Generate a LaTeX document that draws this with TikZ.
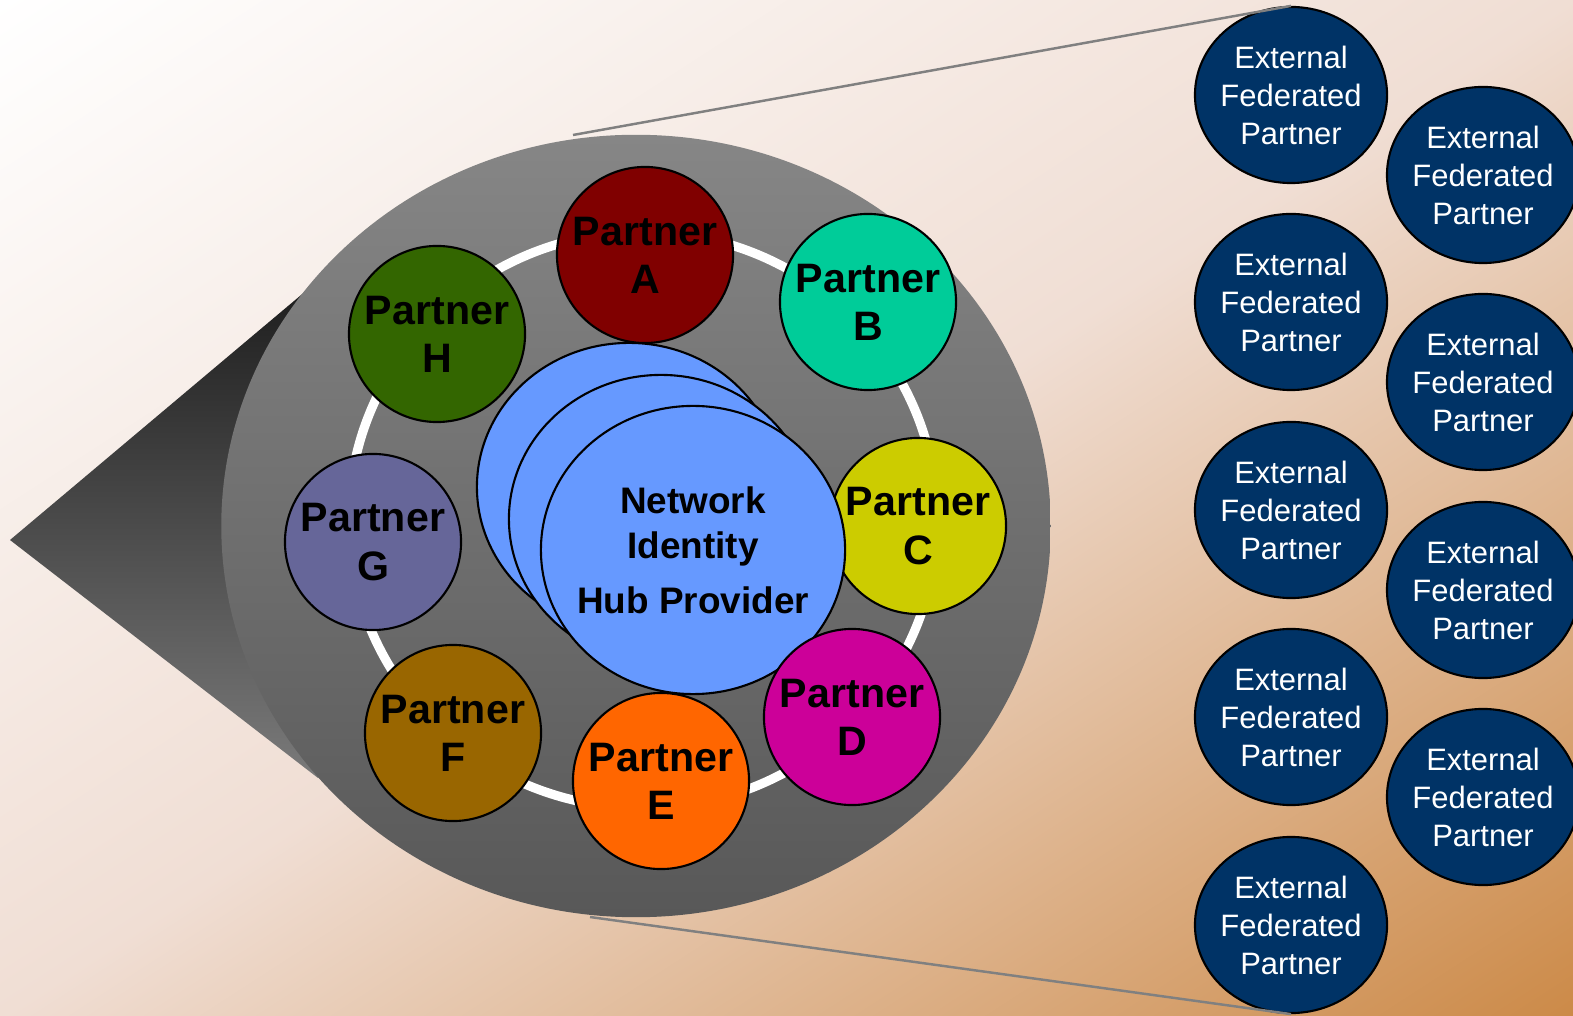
\documentclass[tikz,border=0pt]{standalone}
\usepackage{fontspec}
\setmainfont{Liberation Sans}
\usepackage{tikz}
\usetikzlibrary{shapes.geometric}
\usetikzlibrary{positioning}
\definecolor{bgbrown}{RGB}{204,138,72}
\definecolor{bgmid}{RGB}{240,222,212}
\definecolor{lenstop}{RGB}{134,134,134}
\definecolor{lensbot}{RGB}{88,88,88}
\definecolor{conetop}{RGB}{30,30,30}
\definecolor{conebot}{RGB}{122,122,122}
\definecolor{pA}{RGB}{128,0,0}
\definecolor{pB}{RGB}{0,204,153}
\definecolor{pC}{RGB}{204,204,0}
\definecolor{pD}{RGB}{204,0,153}
\definecolor{pE}{RGB}{255,102,0}
\definecolor{pF}{RGB}{153,102,0}
\definecolor{pG}{RGB}{102,102,153}
\definecolor{pH}{RGB}{51,102,0}
\definecolor{hubblue}{RGB}{102,153,255}
\definecolor{extblue}{RGB}{0,51,102}
\definecolor{zoomgray}{RGB}{128,128,128}
\begin{document}
\begin{tikzpicture}[x=0.01cm, y=-0.01cm]
    % Define styles
    \tikzstyle{partner} = [ellipse, draw, line width=0.6pt, minimum width=1.76cm, minimum height=1.76cm, inner xsep=-0.25cm, inner ysep=-0.1cm, align=center, font=\fontsize{11.7}{13.7}\selectfont\bfseries]
    \tikzstyle{hub} = [ellipse, draw, fill=hubblue, line width=0.6pt, minimum width=3.04cm, minimum height=2.88cm, inner xsep=-0.25cm, inner ysep=-0.1cm, align=center, font=\fontsize{10.5}{12.8}\selectfont\bfseries]
    \tikzstyle{external} = [ellipse, draw, fill=extblue, text=white, line width=0.6pt, minimum width=1.92cm, minimum height=1.76cm, inner xsep=-0.25cm, inner ysep=-0.1cm, align=center, font=\fontsize{8.8}{10.8}\selectfont]
    \tikzstyle{zoomline} = [draw=zoomgray, line width=0.7pt]
    \useasboundingbox (0,0) rectangle (1573,1016);

    % Background
    \begin{scope}
        \clip (0,0) rectangle (1573,1016);
        \begin{scope}[transform canvas={rotate around={-57.1:(786.5,508)}}]
            \shade [left color=white, right color=bgbrown, middle color=bgmid] (-67,-492) rectangle (1640,1508);
        \end{scope}
    \end{scope}

    % Lens
    \coordinate (apex) at (10,540);
    \coordinate (lenscenter) at (636,526);
    \shade [top color=conetop, bottom color=conebot] (apex) -- (313,285) -- (lenscenter) -- (318,778) -- cycle;
    \shade [top color=lenstop, bottom color=lensbot] (lenscenter) ellipse [x radius=4.145cm, y radius=3.91cm];
    \draw [white, line width=2.6pt] (643,520) ellipse [x radius=2.94cm, y radius=2.88cm];

    % Place nodes - partners
    \node [partner, fill=pA] (partnerA) at (645,255) {Partner\\A};
    \node [partner, fill=pB] (partnerB) at (868,302) {Partner\\B};
    \node [partner, fill=pC] (partnerC) at (918,526) {Partner\\C};
    \node [partner, fill=pE] (partnerE) at (661,781) {Partner\\E};
    \node [partner, fill=pF] (partnerF) at (453,733) {Partner\\F};
    \node [partner, fill=pG] (partnerG) at (373,542) {Partner\\G};
    \node [partner, fill=pH] (partnerH) at (437,334) {Partner\\H};

    % Place nodes - hub providers
    \node [hub] (hub1) at (629,487) {Network\\Identity\\[2.8pt]Hub Provider};
    \node [hub] (hub2) at (661,519) {Network\\Identity\\[2.8pt]Hub Provider};
    \node [hub] (hub3) at (693,550) {Network\\Identity\\[2.8pt]Hub Provider};
    \node [partner, fill=pD] (partnerD) at (852,717) {Partner\\D};

    % Place nodes - external partners
    \node [external] (ext1) at (1291,95) {External\\Federated\\Partner};
    \node [external] (ext2) at (1291,302) {External\\Federated\\Partner};
    \node [external] (ext3) at (1291,510) {External\\Federated\\Partner};
    \node [external] (ext4) at (1291,717) {External\\Federated\\Partner};
    \node [external] (ext5) at (1291,925) {External\\Federated\\Partner};
    \node [external] (ext6) at (1483,175) {External\\Federated\\Partner};
    \node [external] (ext7) at (1483,382) {External\\Federated\\Partner};
    \node [external] (ext8) at (1483,590) {External\\Federated\\Partner};
    \node [external] (ext9) at (1483,797) {External\\Federated\\Partner};

    % Zoom lines
    \coordinate (lenstopedge) at (573,135);
    \coordinate (lensbotedge) at (590,917);
    \path [zoomline] (lenstopedge) -- (ext1.north);
    \path [zoomline] (lensbotedge) -- (ext5.south);
\end{tikzpicture}
\end{document}
